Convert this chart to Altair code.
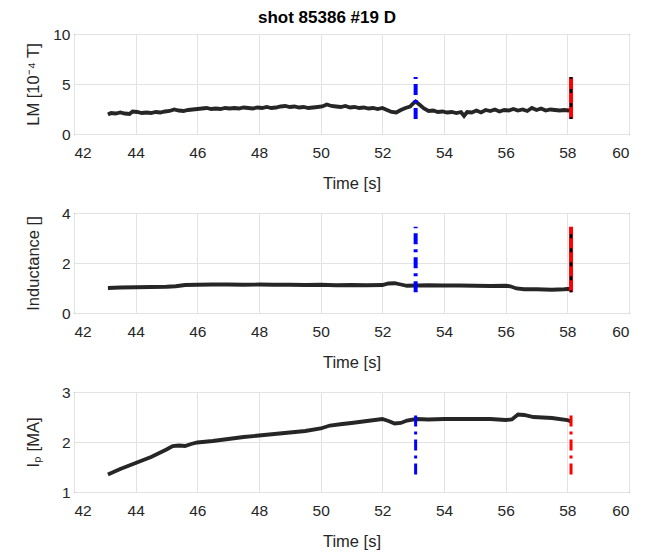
import altair as alt
import pandas as pd

# ---------------- data ----------------
lm_time = [43.10, 43.20, 43.35, 43.50, 43.65, 43.80, 43.90, 44.05, 44.20, 44.35, 44.50, 44.65, 44.80, 44.95,
           45.10, 45.25, 45.40, 45.55, 45.70, 45.85, 46.00, 46.15, 46.30, 46.45, 46.60, 46.75, 46.90, 47.05,
           47.20, 47.35, 47.50, 47.65, 47.80, 47.95, 48.10, 48.25, 48.40, 48.55, 48.70, 48.85, 49.00, 49.15,
           49.30, 49.45, 49.60, 49.75, 49.90, 50.05, 50.20, 50.35, 50.50, 50.65, 50.80, 50.95, 51.10, 51.25,
           51.40, 51.55, 51.70, 51.85, 52.00, 52.15, 52.30, 52.45, 52.60, 52.75, 52.90, 53.00, 53.08, 53.20,
           53.35, 53.50, 53.65, 53.80, 53.95, 54.10, 54.25, 54.40, 54.55, 54.65, 54.75, 54.90, 55.05, 55.20,
           55.35, 55.50, 55.65, 55.80, 55.95, 56.10, 56.25, 56.40, 56.55, 56.70, 56.85, 57.00, 57.15, 57.30,
           57.45, 57.60, 57.75, 57.90, 58.05, 58.12]
lm_value = [1.95, 2.10, 2.05, 2.15, 2.05, 2.00, 2.25, 2.20, 2.10, 2.15, 2.10, 2.20, 2.15, 2.25,
            2.30, 2.45, 2.35, 2.30, 2.40, 2.45, 2.50, 2.55, 2.60, 2.50, 2.55, 2.50, 2.60, 2.55,
            2.60, 2.55, 2.65, 2.60, 2.55, 2.65, 2.60, 2.70, 2.60, 2.65, 2.75, 2.80, 2.70, 2.75,
            2.65, 2.70, 2.60, 2.65, 2.70, 2.75, 2.95, 2.80, 2.75, 2.70, 2.80, 2.65, 2.70, 2.60,
            2.65, 2.55, 2.60, 2.50, 2.60, 2.40, 2.20, 2.15, 2.40, 2.60, 2.75, 3.05, 3.25, 2.95,
            2.55, 2.30, 2.35, 2.20, 2.25, 2.15, 2.20, 2.10, 2.20, 1.80, 2.20, 2.15, 2.35, 2.15,
            2.40, 2.30, 2.45, 2.25, 2.40, 2.35, 2.50, 2.35, 2.45, 2.30, 2.60, 2.40, 2.55, 2.35,
            2.45, 2.40, 2.35, 2.40, 2.35, 2.40]

ind_time = [43.1, 43.5, 44.0, 44.5, 45.0, 45.3, 45.6, 46.0, 46.5, 47.0, 47.5, 48.0, 48.5, 49.0, 49.5,
            50.0, 50.5, 51.0, 51.5, 52.0, 52.2, 52.4, 52.6, 52.8, 53.1, 53.5, 54.0, 54.5, 55.0, 55.5,
            56.0, 56.15, 56.35, 56.6, 57.0, 57.5, 57.9, 58.12]
ind_value = [1.00, 1.02, 1.03, 1.04, 1.05, 1.07, 1.12, 1.13, 1.14, 1.14, 1.13, 1.14, 1.13, 1.13, 1.12,
             1.13, 1.11, 1.12, 1.11, 1.12, 1.18, 1.19, 1.14, 1.09, 1.10, 1.11, 1.10, 1.10, 1.09, 1.08,
             1.09, 1.07, 0.98, 0.95, 0.95, 0.93, 0.95, 0.97]

ip_time = [43.1, 43.5, 44.0, 44.5, 45.0, 45.2, 45.4, 45.6, 45.8, 46.0, 46.5, 47.0, 47.5, 48.0, 48.5,
           49.0, 49.5, 50.0, 50.3, 50.7, 51.0, 51.5, 52.0, 52.2, 52.4, 52.6, 52.8, 53.1, 53.5, 54.0,
           55.0, 55.5, 56.0, 56.2, 56.4, 56.6, 56.9, 57.5, 58.0, 58.12]
ip_value = [1.35, 1.46, 1.58, 1.70, 1.85, 1.92, 1.93, 1.92, 1.96, 1.99, 2.02, 2.06, 2.10, 2.13, 2.16,
            2.19, 2.22, 2.27, 2.33, 2.36, 2.38, 2.42, 2.46, 2.42, 2.37, 2.38, 2.43, 2.46, 2.45, 2.46,
            2.46, 2.46, 2.44, 2.45, 2.55, 2.54, 2.50, 2.48, 2.44, 2.41]

event_blue = 53.08
event_red = 58.12
lm_event_range = [1.5, 5.7]
ind_event_range = [0.83, 3.45]
ip_event_range = [1.35, 2.55]

x_ticks = [42, 44, 46, 48, 50, 52, 54, 56, 58, 60]
title_text = "shot 85386 #19 D"

FONT = "Liberation Sans, Arial, sans-serif"
TXT = "#262626"
W, H = 555, 100


def panel(t, v, ytitle, ydomain, yticks, erange, red_overlay=True, ew=4):
    df = pd.DataFrame({"t": t, "v": v})
    xs = alt.Scale(domain=[42, 60], nice=False, zero=False)
    ys = alt.Scale(domain=ydomain, nice=False, zero=False)
    x_main = alt.X("t:Q", scale=xs, axis=alt.Axis(values=x_ticks, title="Time [s]", grid=True,
                                                  ticks=False, domain=False, labelPadding=11,
                                                  titlePadding=15, labelExpr="format(datum.value, '.0f')",
                                                  labelOverlap=False))
    y_main = alt.Y("v:Q", scale=ys, axis=alt.Axis(values=yticks, title=ytitle, grid=True,
                                                  ticks=False, domain=False, labelPadding=4,
                                                  titleX=-33, labelExpr="format(datum.value, '.0f')",
                                                  labelOverlap=False))
    line = alt.Chart(df).mark_line(color="black", strokeWidth=3.8, opacity=0.85).encode(x=x_main, y=y_main)

    ev = pd.DataFrame({"t": [event_blue, event_red], "y1": [erange[0]] * 2, "y2": [erange[1]] * 2,
                       "kind": ["blue", "red"]})
    ex = alt.X("t:Q", scale=xs)
    ey = alt.Y("y1:Q", scale=ys)
    blue = alt.Chart(ev[ev.kind == "blue"]).mark_rule(color="#0000ff", strokeWidth=ew,
                                                      strokeDash=[11, 5, 3, 5]).encode(x=ex, y=ey, y2="y2:Q")
    layers = [line, blue]
    if red_overlay:
        red = alt.Chart(ev[ev.kind == "red"]).mark_rule(color="#ff0000", strokeWidth=ew).encode(
            x=ex, y=ey, y2="y2:Q")
        dots = alt.Chart(ev[ev.kind == "red"]).mark_rule(color="black", strokeWidth=2.5,
                                                         strokeDash=[4, 10], strokeDashOffset=-12).encode(
            x=ex, y=ey, y2="y2:Q")
        layers += [red, dots]
    else:
        red = alt.Chart(ev[ev.kind == "red"]).mark_rule(color="#ff0000", strokeWidth=ew,
                                                        strokeDash=[11, 5, 3, 5]).encode(x=ex, y=ey, y2="y2:Q")
        layers += [red]
    return alt.layer(*layers).properties(width=W, height=H)


p1 = panel(lm_time, lm_value, "LM [10⁻⁴ T]", [0, 10], [0, 5, 10], lm_event_range)
p2 = panel(ind_time, ind_value, "Inductance []", [0, 4], [0, 2, 4], ind_event_range)
p3 = panel(ip_time, ip_value, "Iₚ [MA]", [1, 3], [1, 2, 3], ip_event_range, red_overlay=False, ew=3)

chart = alt.vconcat(p1, p2, p3, spacing=12).properties(
    title=alt.TitleParams(title_text, fontSize=17, fontWeight="bold", font=FONT, color="black",
                          anchor="middle", offset=0),
    padding={"left": 16, "top": 0, "right": 0, "bottom": 0},
).configure_view(stroke="#333333", strokeWidth=1).configure_axis(
    labelFont=FONT, titleFont=FONT, labelFontSize=15.5, titleFontSize=16.5, labelColor=TXT,
    titleColor=TXT, titleFontWeight="normal", gridColor="#e3e3e3", gridWidth=1
).configure_concat(spacing=12)

chart.save("out.html", embed_options={"renderer": "svg", "actions": False})
